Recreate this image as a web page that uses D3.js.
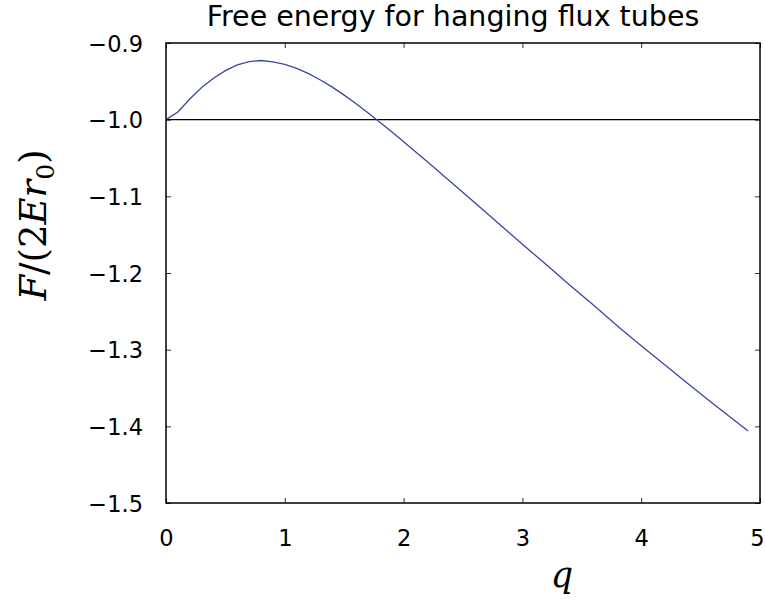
<!DOCTYPE html>
<html>
<head>
<meta charset="utf-8">
<script src="https://cdn.jsdelivr.net/npm/d3@7"></script>
<style>
  body { margin: 0; background: #fff; }
  svg { display: block; }
</style>
</head>
<body>
<div id="canvas"></div>
<script>
// values
const qValues = [0, 0.1, 0.2, 0.3, 0.4, 0.5, 0.6, 0.7, 0.8, 0.9, 1.0, 1.1, 1.2, 1.3, 1.4, 1.5,
  1.6, 1.7, 1.8, 1.9, 2.0, 2.2, 2.4, 2.6, 2.8, 3.0, 3.2, 3.4, 3.6, 3.8, 4.0, 4.2, 4.4, 4.6, 4.8, 4.9];
const freeEnergy = [-1.000, -0.990, -0.973, -0.958, -0.946, -0.936, -0.9285, -0.9242, -0.9228, -0.9245,
  -0.928, -0.9332, -0.9400, -0.9482, -0.9576, -0.9680, -0.9792, -0.9910, -1.0033, -1.0159, -1.0287,
  -1.0550, -1.0815, -1.1085, -1.1355, -1.1625, -1.189, -1.216, -1.242, -1.269, -1.295, -1.320,
  -1.345, -1.370, -1.394, -1.406];
const referenceLevel = [-1.0];
const xTicks = [0, 1, 2, 3, 4, 5];
const yTicks = [-0.9, -1.0, -1.1, -1.2, -1.3, -1.4, -1.5];
const title = "Free energy for hanging flux tubes";

let W = 765, H = 602
  , margin = { left: 166, right: 5, top: 43, bottom: 99 }
  , width = W - margin.left - margin.right
  , height = H - margin.top - margin.bottom
  ;

let svg = d3.select("#canvas").append("svg")
  .attr("width", W)
  .attr("height", H)
  , g = svg.append("g").attr("transform", "translate(" + margin.left + "," + margin.top + ")");

let x = d3.scaleLinear().domain([0, 5]).range([0, width]);
let y = d3.scaleLinear().domain([-1.5, -0.9]).range([height, 0]);

const minus = s => s.replace("-", "\u2212");
const tickFont = "DejaVu Sans, sans-serif";

// axes with inward ticks, mirrored on top/right
function styleAxis(sel, showLabels) {
  sel.select(".domain").remove();
  sel.selectAll(".tick line").attr("stroke", "#333").attr("stroke-width", 1);
  sel.selectAll(".tick text").attr("font-family", tickFont).attr("font-size", 22.5).attr("fill", "#000");
  if (!showLabels) sel.selectAll(".tick text").remove();
}

g.append("g").attr("transform", "translate(0," + height + ")")
  .call(d3.axisBottom(x).tickValues(xTicks).tickSizeInner(-5).tickPadding(27).tickFormat(d3.format("d")))
  .call(s => styleAxis(s, true))
  .selectAll(".tick text").attr("dy", "0.71em")
  .attr("dx", d => d === 5 ? -3 : 0); // keep the last label inside the page

g.append("g")
  .call(d3.axisTop(x).tickValues(xTicks).tickSizeInner(-5).tickFormat(""))
  .call(s => styleAxis(s, false));

g.append("g")
  .call(d3.axisLeft(y).tickValues(yTicks).tickSizeInner(-5).tickPadding(23).tickFormat(d => minus(d3.format(".1f")(d))))
  .call(s => styleAxis(s, true))
  .selectAll(".tick text").attr("dy", "0.36em");

g.append("g").attr("transform", "translate(" + width + ",0)")
  .call(d3.axisRight(y).tickValues(yTicks).tickSizeInner(-5).tickFormat(""))
  .call(s => styleAxis(s, false));

// reference line at -1
g.selectAll(".ref").data(referenceLevel).enter().append("line")
  .attr("class", "ref")
  .attr("x1", 0).attr("x2", width)
  .attr("y1", d => y(d)).attr("y2", d => y(d))
  .attr("stroke", "#000").attr("stroke-width", 1.2);

let data = qValues.map((q, i) => ({ q: q, f: freeEnergy[i] }));
let valueLine = d3.line()
  .x(d => x(d.q))
  .y(d => y(d.f));

g.append("path")
  .datum(data)
  .attr("d", valueLine)
  .attr("fill", "none")
  .attr("stroke", "#3a46a8")
  .attr("stroke-width", 1.3);

// frame
g.append("rect")
  .attr("width", width).attr("height", height)
  .attr("fill", "none").attr("stroke", "#000").attr("stroke-width", 1.5);

// title
svg.append("text")
  .attr("x", 453).attr("y", 26)
  .attr("text-anchor", "middle")
  .attr("font-family", tickFont).attr("font-size", 28.5)
  .text(title);

// x label
svg.append("text")
  .attr("x", 562).attr("y", 587)
  .attr("text-anchor", "middle")
  .attr("font-family", "DejaVu Serif, serif").attr("font-style", "italic").attr("font-size", 35)
  .text("q");

// y label F/(2Er_0)
let yl = svg.append("text")
  .attr("transform", "translate(46,225) rotate(-90)")
  .attr("text-anchor", "middle")
  .attr("font-family", "DejaVu Serif, serif").attr("font-size", 37);
yl.append("tspan").attr("font-style", "italic").text("F");
yl.append("tspan").text("/(2");
yl.append("tspan").attr("font-style", "italic").text("Er");
yl.append("tspan").attr("font-size", 25).attr("dy", 8).text("0");
yl.append("tspan").attr("dy", -8).text(")");
</script>
</body>
</html>
